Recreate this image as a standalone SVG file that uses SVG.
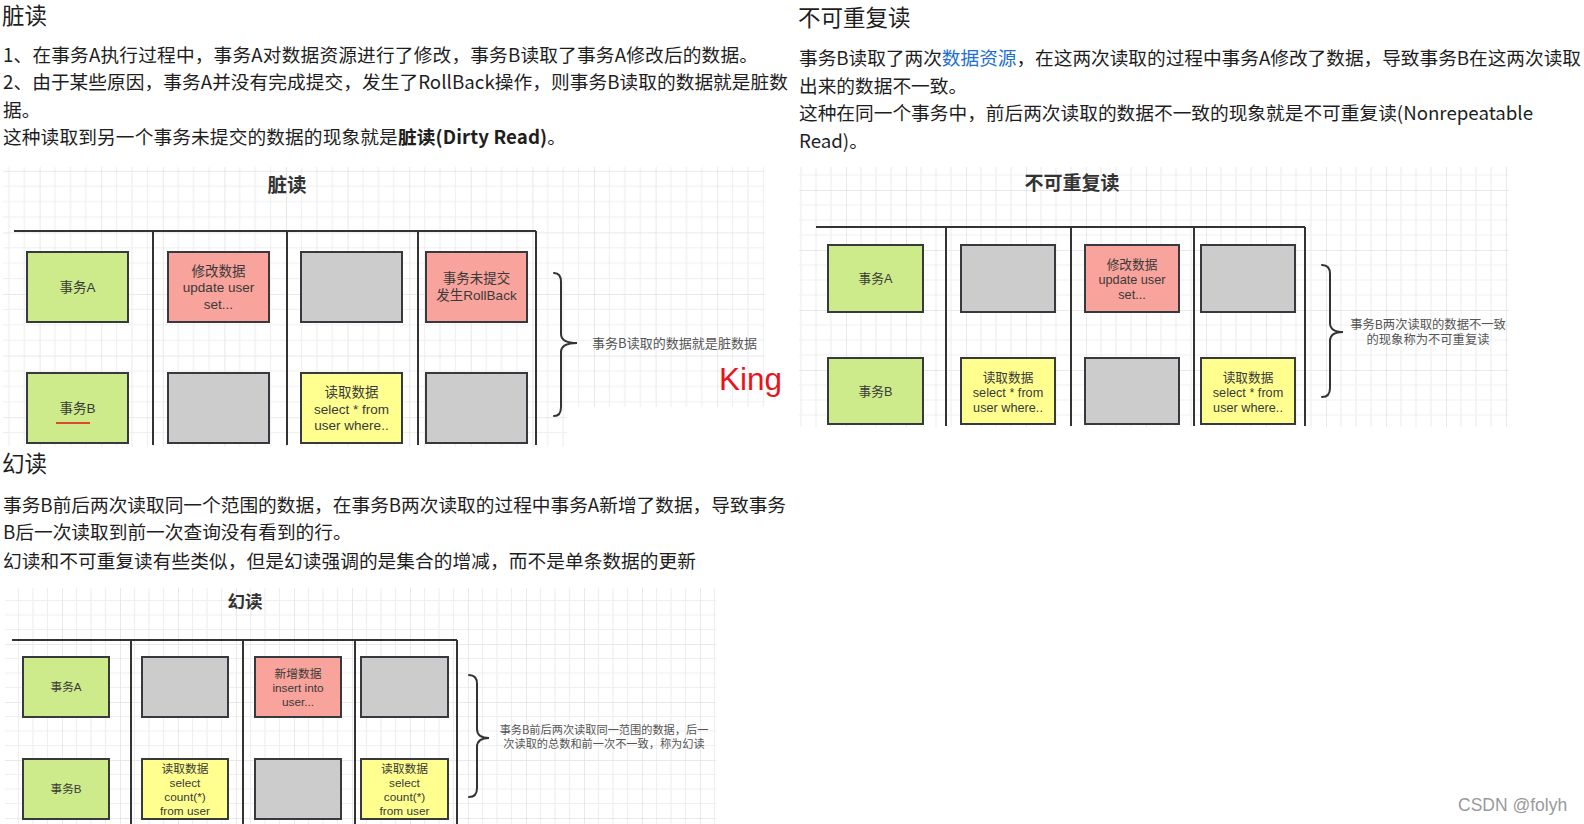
<svg xmlns="http://www.w3.org/2000/svg" width="1584" height="824" viewBox="0 0 1584 824">
<style>
.body{font-family:"Noto Sans CJK SC","Microsoft YaHei",sans-serif;font-size:18.7px;fill:#1e1e1e}
.h{font-family:"Noto Sans CJK SC","Microsoft YaHei",sans-serif;font-size:22.5px;fill:#1e1e1e}
.dt{font-family:"Noto Sans CJK SC",sans-serif;font-weight:bold;fill:#333;text-anchor:middle}
.bx{stroke:#36393d;stroke-width:2}
.g{fill:#cdeb8b}.r{fill:#f8a39b}.y{fill:#ffff8f}.k{fill:#cccccc}
.bt{font-family:"Liberation Sans","Noto Sans CJK SC",sans-serif;fill:#3a3a3a;text-anchor:middle}
.ln{stroke:#333;stroke-width:2;fill:none}
.br{stroke:#333;stroke-width:2;fill:none;stroke-linecap:round}
.note{font-family:"Noto Sans CJK SC",sans-serif;fill:#555;text-anchor:middle}
</style>
<defs>
<pattern id="grid1" patternUnits="userSpaceOnUse" width="61.6" height="61.6" x="-22" y="-14">
<path d="M0 0V61.6M15.4 0V61.6M30.8 0V61.6M46.2 0V61.6M0 0H61.6M0 15.4H61.6M0 30.8H61.6M0 46.2H61.6" stroke="#efefef" stroke-width="1.2" fill="none"/>
<path d="M0 0V61.6M0 0H61.6" stroke="#e4e4e4" stroke-width="1.5" fill="none"/>
</pattern>
<pattern id="grid2" patternUnits="userSpaceOnUse" width="60" height="60" x="6" y="10">
<path d="M0 0V60M15 0V60M30 0V60M45 0V60M0 0H60M0 15H60M0 30H60M0 45H60" stroke="#efefef" stroke-width="1.2" fill="none"/>
<path d="M0 0V60M0 0H60" stroke="#e4e4e4" stroke-width="1.5" fill="none"/>
</pattern>
<pattern id="grid3" patternUnits="userSpaceOnUse" width="58" height="58" x="4" y="6">
<path d="M0 0V58M14.5 0V58M29 0V58M43.5 0V58M0 0H58M0 14.5H58M0 29H58M0 43.5H58" stroke="#efefef" stroke-width="1.2" fill="none"/>
<path d="M0 0V58M0 0H58" stroke="#e4e4e4" stroke-width="1.5" fill="none"/>
</pattern>
</defs>
<rect width="1584" height="824" fill="#ffffff"/>

<!-- Text section 1 -->
<g id="text-dirty">
<text class="h" x="2" y="24">脏读</text>
<text class="body" x="3" y="62" textLength="755" lengthAdjust="spacing">1、在事务A执行过程中，事务A对数据资源进行了修改，事务B读取了事务A修改后的数据。</text>
<text class="body" x="3" y="89" textLength="785" lengthAdjust="spacing">2、由于某些原因，事务A并没有完成提交，发生了RollBack操作，则事务B读取的数据就是脏数</text>
<text class="body" x="3" y="117">据。</text>
<text class="body" x="3" y="144" textLength="563" lengthAdjust="spacing">这种读取到另一个事务未提交的数据的现象就是<tspan font-weight="bold">脏读(Dirty Read)</tspan>。</text>
</g>

<!-- Text section 2 -->
<g id="text-nonrepeatable">
<text class="h" x="798" y="26">不可重复读</text>
<text class="body" x="799" y="65" textLength="782" lengthAdjust="spacing">事务B读取了两次<tspan fill="#1e6fd0">数据资源</tspan>，在这两次读取的过程中事务A修改了数据，导致事务B在这两次读取</text>
<text class="body" x="799" y="93">出来的数据不一致。</text>
<text class="body" x="799" y="120" textLength="734" lengthAdjust="spacing">这种在同一个事务中，前后两次读取的数据不一致的现象就是不可重复读(Nonrepeatable</text>
<text class="body" x="799" y="148">Read)。</text>
</g>

<!-- Text section 3 -->
<g id="text-phantom">
<text class="h" x="2" y="472">幻读</text>
<text class="body" x="3" y="512" textLength="783" lengthAdjust="spacing">事务B前后两次读取同一个范围的数据，在事务B两次读取的过程中事务A新增了数据，导致事务</text>
<text class="body" x="3" y="539">B后一次读取到前一次查询没有看到的行。</text>
<text class="body" x="3" y="568" textLength="693" lengthAdjust="spacing">幻读和不可重复读有些类似，但是幻读强调的是集合的增减，而不是单条数据的更新</text>
</g>

<!-- Diagram 1 : dirty read -->
<g id="diagram-dirty">
<polygon points="3,167 765,167 765,407 567,407 567,447 3,447" fill="url(#grid1)"/>
<text class="dt" x="287" y="192" font-size="19.5">脏读</text>
<g id="lanes-1">
<path class="ln" d="M14 231H536M153 231V445M287 231V445M418 231V445M536 231V445"/>
</g>
<g id="d1-txA"><rect class="bx g" x="27" y="252" width="101" height="70"/><text class="bt" x="77.5" y="291.5" font-size="13.5">事务A</text></g>
<g id="d1-update"><rect class="bx r" x="168" y="252" width="101" height="70"/><text class="bt" x="218.5" y="275.5" font-size="13.5">修改数据</text><text class="bt" x="218.5" y="292" font-size="13.5">update user</text><text class="bt" x="218.5" y="308.5" font-size="13.5">set...</text></g>
<g id="d1-emptyA3"><rect class="bx k" x="301" y="252" width="101" height="70"/></g>
<g id="d1-rollback"><rect class="bx r" x="426" y="252" width="101" height="70"/><text class="bt" x="476.5" y="283" font-size="13.5">事务未提交</text><text class="bt" x="476.5" y="300" font-size="13.5">发生RollBack</text></g>
<g id="d1-txB"><rect class="bx g" x="27" y="373" width="101" height="70"/><text class="bt" x="77.5" y="413" font-size="13.5">事务B</text><path d="M56 423H90" stroke="#e01010" stroke-width="1.5"/></g>
<g id="d1-emptyB2"><rect class="bx k" x="168" y="373" width="101" height="70"/></g>
<g id="d1-select"><rect class="bx y" x="301" y="373" width="101" height="70"/><text class="bt" x="351.5" y="397" font-size="13.5">读取数据</text><text class="bt" x="351.5" y="414" font-size="13.5">select * from</text><text class="bt" x="351.5" y="430" font-size="13.5">user where..</text></g>
<g id="d1-emptyB4"><rect class="bx k" x="426" y="373" width="101" height="70"/></g>
<g id="connectors-1"><path class="br" d="M554 273Q561 273 561 282L561 334Q561 343 577 343Q561 343 561 352L561 407Q561 416 554 416"/></g>
<g id="d1-note"><text class="note" x="674.5" y="347.5" font-size="13" textLength="165" lengthAdjust="spacing">事务B读取的数据就是脏数据</text></g>
</g>
<g id="king"><text x="719" y="390" font-family="Liberation Sans,Arial,sans-serif" font-size="32" fill="#e8141c" textLength="63" lengthAdjust="spacingAndGlyphs">King</text></g>

<!-- Diagram 2 : non-repeatable read -->
<g id="diagram-nonrepeatable">
<rect x="799" y="167" width="710" height="260" fill="url(#grid2)"/>
<text class="dt" x="1072" y="190" font-size="19">不可重复读</text>
<g id="lanes-2">
<path class="ln" d="M816 227H1305M946 227V426M1071 227V426M1194 227V426M1305 227V426"/>
</g>
<g id="d2-txA"><rect class="bx g" x="828" y="245" width="95" height="67"/><text class="bt" x="875.5" y="283" font-size="12.7">事务A</text></g>
<g id="d2-emptyA2"><rect class="bx k" x="961" y="245" width="94" height="67"/></g>
<g id="d2-update"><rect class="bx r" x="1085" y="245" width="94" height="67"/><text class="bt" x="1132" y="268.5" font-size="12.7">修改数据</text><text class="bt" x="1132" y="283.5" font-size="12.7">update user</text><text class="bt" x="1132" y="298.5" font-size="12.7">set...</text></g>
<g id="d2-emptyA4"><rect class="bx k" x="1201" y="245" width="94" height="67"/></g>
<g id="d2-txB"><rect class="bx g" x="828" y="358" width="95" height="66"/><text class="bt" x="875.5" y="395.5" font-size="12.7">事务B</text></g>
<g id="d2-select1"><rect class="bx y" x="961" y="358" width="94" height="66"/><text class="bt" x="1008" y="381.5" font-size="12.7">读取数据</text><text class="bt" x="1008" y="396.5" font-size="12.7">select * from</text><text class="bt" x="1008" y="411.5" font-size="12.7">user where..</text></g>
<g id="d2-emptyB3"><rect class="bx k" x="1085" y="358" width="94" height="66"/></g>
<g id="d2-select2"><rect class="bx y" x="1201" y="358" width="94" height="66"/><text class="bt" x="1248" y="381.5" font-size="12.7">读取数据</text><text class="bt" x="1248" y="396.5" font-size="12.7">select * from</text><text class="bt" x="1248" y="411.5" font-size="12.7">user where..</text></g>
<g id="connectors-2"><path class="br" d="M1322 265Q1330 265 1330 274L1330 323Q1330 332 1343 332Q1330 332 1330 341L1330 388Q1330 397 1322 397"/></g>
<g id="d2-note"><text class="note" x="1428" y="328.5" font-size="12.3">事务B两次读取的数据不一致</text><text class="note" x="1428" y="343.5" font-size="12.3">的现象称为不可重复读</text></g>
</g>

<!-- Diagram 3 : phantom read -->
<g id="diagram-phantom">
<rect x="5" y="588" width="711" height="236" fill="url(#grid3)"/>
<text class="dt" x="245" y="608" font-size="17.5">幻读</text>
<g id="lanes-3">
<path class="ln" d="M12 640H457M131 640V824M243 640V824M355 640V824M457 640V824"/>
</g>
<g id="d3-txA"><rect class="bx g" x="23" y="657" width="86" height="60"/><text class="bt" x="66" y="691" font-size="11.6">事务A</text></g>
<g id="d3-emptyA2"><rect class="bx k" x="142" y="657" width="86" height="60"/></g>
<g id="d3-insert"><rect class="bx r" x="255" y="657" width="86" height="60"/><text class="bt" x="298" y="678" font-size="11.8">新增数据</text><text class="bt" x="298" y="692" font-size="11.8">insert into</text><text class="bt" x="298" y="706" font-size="11.8">user...</text></g>
<g id="d3-emptyA4"><rect class="bx k" x="361" y="657" width="87" height="60"/></g>
<g id="d3-txB"><rect class="bx g" x="23" y="759" width="86" height="60"/><text class="bt" x="66" y="793" font-size="11.6">事务B</text></g>
<g id="d3-count1"><rect class="bx y" x="142" y="759" width="86" height="60"/><text class="bt" x="185" y="773" font-size="11.8">读取数据</text><text class="bt" x="185" y="787" font-size="11.8">select</text><text class="bt" x="185" y="801" font-size="11.8">count(*)</text><text class="bt" x="185" y="814.5" font-size="11.8">from user</text></g>
<g id="d3-emptyB3"><rect class="bx k" x="255" y="759" width="86" height="60"/></g>
<g id="d3-count2"><rect class="bx y" x="361" y="759" width="87" height="60"/><text class="bt" x="404.5" y="773" font-size="11.8">读取数据</text><text class="bt" x="404.5" y="787" font-size="11.8">select</text><text class="bt" x="404.5" y="801" font-size="11.8">count(*)</text><text class="bt" x="404.5" y="814.5" font-size="11.8">from user</text></g>
<g id="connectors-3"><path class="br" d="M469 675Q477 675 477 684L477 729Q477 738 489 738Q477 738 477 747L477 788Q477 797 469 797"/></g>
<g id="d3-note"><text class="note" x="604" y="733.5" font-size="11.2">事务B前后两次读取同一范围的数据，后一</text><text class="note" x="604" y="748" font-size="11.2">次读取的总数和前一次不一致，称为幻读</text></g>
</g>

<g id="watermark"><text x="1458" y="811" font-family="Liberation Sans,Arial,sans-serif" font-size="17.5" fill="#9a9a9a">CSDN @folyh</text></g>
</svg>
